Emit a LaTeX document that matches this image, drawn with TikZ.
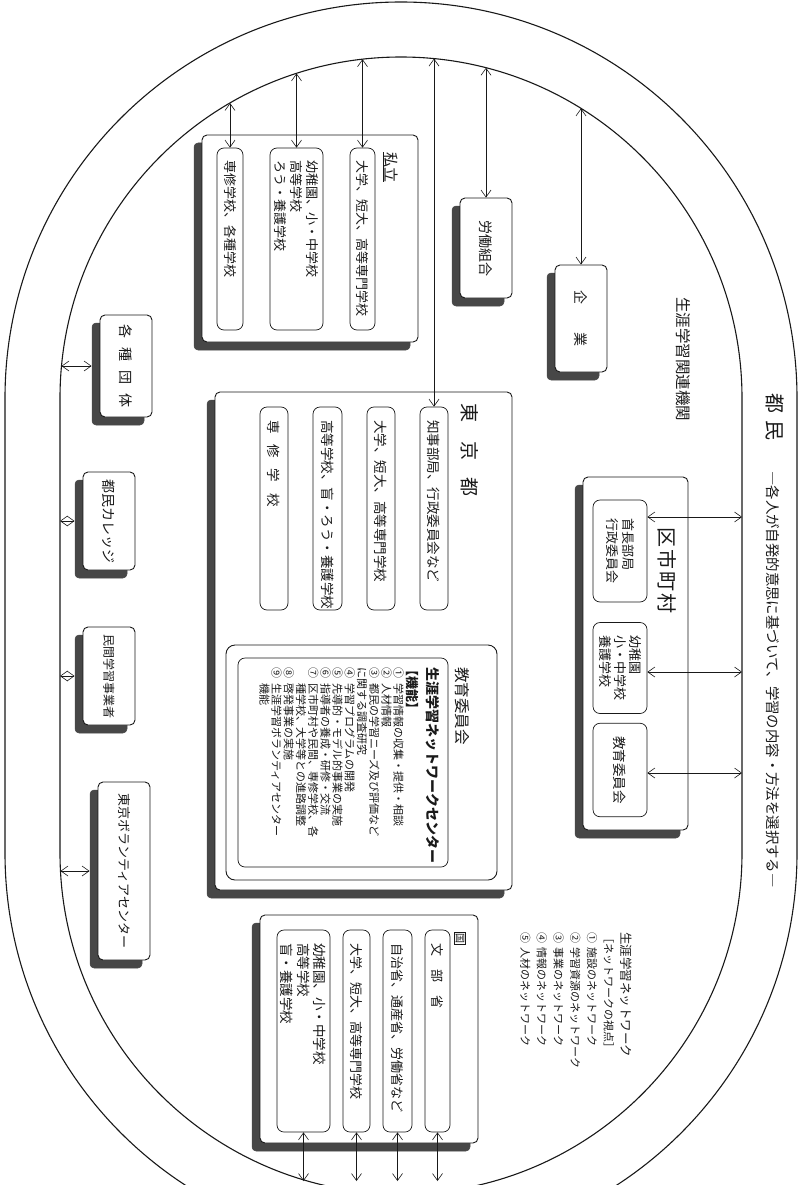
\documentclass[tikz,border=0pt]{standalone}
\usepackage{fontspec}
\setmainfont{Noto Sans CJK JP}
\usepackage{graphicx}
\usepackage{tikz}
\usetikzlibrary{arrows.meta}
\definecolor{inkblack}{RGB}{25,25,25}
\newcommand{\fsz}[2]{\fontsize{#1}{#2}\selectfont}
\tikzset{
  base/.style={font=\fsz{13}{15}, inner sep=0pt, text=inkblack},
  vtxt/.style={base, rotate=-90},
  sbox/.style={base, rectangle, rounded corners=5pt, draw=inkblack, fill=white, line width=0.9pt},
  boxshadow/.style={fill=black!72, draw=black!72, line width=0.5pt, rounded corners=4pt},
  roundbox/.style={base, rectangle, rounded corners=9pt, draw=inkblack, fill=white, line width=0.9pt},
  pill/.style={vtxt, rectangle, rounded corners=7pt, draw=inkblack, fill=white, line width=0.7pt,
    align=left, inner xsep=13pt, inner ysep=0pt},
  ring/.style={draw=inkblack, line width=1.1pt},
  darr/.style={<->, >={Straight Barb[length=7pt,width=10pt]}, line width=0.6pt, draw=inkblack},
}
\begin{document}
\begin{tikzpicture}[x=1pt,y=1pt]
  \useasboundingbox (0,0) rectangle (802,-1185);
  \draw[ring] (797,-398) arc[start angle=0,end angle=180,radius=396] -- (5,-853)
    arc[start angle=180,end angle=360,radius=396] -- cycle;
  \draw[ring] (742,-398) arc[start angle=0,end angle=180,radius=341] -- (60,-853)
    arc[start angle=180,end angle=360,radius=341] -- cycle;
  \foreach \x/\y/\w/\h in {635.5/-653.5/105/353,310/-238.5/216/207,486/-248/52/100,581/-318.5/52/107,363.5/-641/297/498,369/-1029/218/228,126/-366/52/102,109/-521/52/98,109/-676/52/98,124/-871/52/178}
    \filldraw[boxshadow] ({\x-\w/2-8},{\y-\h/2-8}) rectangle ({\x+\w/2-8},{\y+\h/2-8});
  \node[vtxt, anchor=west] (tomin) at (775,-393) {{\fsz{20}{20}都\hspace{7pt}民}\hspace{31pt}\fsz{14.4}{16}―各人が自発的意思に基づいて、学習の内容・方法を選択する―};
  \node[vtxt, anchor=west, font=\fsz{15.5}{17}] (kanren) at (683,-297) {生涯学習関連機関};

  \node[sbox, minimum width=105pt, minimum height=353pt] (kushi) at (635.5,-653.5) {};
  \node[vtxt, anchor=west, font=\fsz{20}{22}] (kushit) at (667,-527) {区\hspace{2pt}市\hspace{2pt}町\hspace{2pt}村};
  \node[pill, font=\fsz{13}{16}, minimum width=102pt, minimum height=54pt] (ks1) at (620,-551) {首長部局\\行政委員会};
  \node[pill, font=\fsz{13}{15}, minimum width=80pt, minimum height=54pt] (ks2) at (620,-668) {幼稚園\\小・中学校\\養護学校};
  \node[pill, font=\fsz{13.5}{15}, minimum width=80pt, minimum height=54pt] (ks3) at (620,-770) {教育委員会};
  \coordinate (ks1r) at (742,-517);
  \coordinate (ks2r) at (742,-672);
  \coordinate (ks3r) at (742,-773);
  \draw[darr] (ks1.north |- ks1r) -- (ks1r);
  \draw[darr] (ks2.north |- ks2r) -- (ks2r);
  \draw[darr] (ks3.north |- ks3r) -- (ks3r);

  \node[sbox, minimum width=216pt, minimum height=207pt] (shi) at (310,-238.5) {};
  \node[vtxt, anchor=west, font=\fsz{15}{17}] (shit) at (390,-152) {\underline{私立}};
  \node[pill, text width=156pt, minimum width=182pt, minimum height=25pt] (shi1) at (362.5,-239) {大学、短大、高等専門学校};
  \node[pill, font=\fsz{13}{16}, text width=156pt, minimum width=182pt, minimum height=53pt] (shi2) at (296.5,-239) {幼稚園、小・中学校\\高等学校\\ろう・養護学校};
  \node[pill, text width=156pt, minimum width=182pt, minimum height=26pt] (shi3) at (230,-239) {専修学校、各種学校};
  \coordinate (shi1t) at (362.5,-59.2);
  \coordinate (shi2t) at (296.5,-73.4);
  \coordinate (shi3t) at (230,-103);
  \foreach \n in {shi1,shi2,shi3}{\draw[darr] (\n t) -- (\n.west);}

  \node[sbox, minimum width=52pt, minimum height=100pt] (rodo) at (486,-248) {\rotatebox{-90}{\fsz{14}{16}労働組合}};
  \node[sbox, minimum width=52pt, minimum height=107pt] (kigyo) at (581,-318.5) {\rotatebox{-90}{\fsz{14}{16}企\hspace{29pt}業}};
  \coordinate (rodot) at (486,-67.8);
  \coordinate (kigyot) at (581,-108.4);
  \draw[darr] (rodot) -- (rodo.north);
  \draw[darr] (kigyot) -- (kigyo.north);

  \node[sbox, minimum width=297pt, minimum height=498pt] (tokyo) at (363.5,-641) {};
  \node[vtxt, anchor=west, font=\fsz{19}{21}] (tokyot) at (470,-403) {東\hspace{19pt}京\hspace{17pt}都};
  \foreach \n/\x/\w/\t in {to1/434/28/{知事部局、行政委員会など},to2/381/28/{大学、短大、高等専門学校},to3/327.5/29/{高等学校、盲・ろう・養護学校},to4/274/28/{専\hspace{11pt}修\hspace{11pt}学\hspace{11pt}校}}
    \node[pill, font=\fsz{13.5}{15}, text width=177pt, minimum width=203pt, minimum height=\w] (\n) at (\x,-508.5) {\t};
  \coordinate (to1t) at (434,-58.6);
  \draw[darr] (to1t) -- (to1.west);

  \node[roundbox, minimum width=271pt, minimum height=235pt] (kyoiku) at (361.5,-762.5) {};
  \node[vtxt, anchor=west, font=\fsz{15.5}{17}] (kyoikut) at (462,-667) {教育委員会};
  \node[roundbox, rounded corners=7pt, line width=0.7pt, minimum width=210pt, minimum height=209pt] (nwc) at (343,-762.5) {};
  \node[vtxt, anchor=west, font=\fsz{14}{16}\bfseries] (nwct) at (433,-667) {生涯学習ネットワークセンター};
  \node[vtxt, anchor=west, font=\fsz{13}{15}\bfseries] (kinou) at (412,-663) {【機能】};
  \node[vtxt, anchor=north west, align=left, font=\fsz{11}{12.2}] (kinoul) at (404,-667) {①\hspace{5pt}学習情報の収集・提供・相談\\
②\hspace{5pt}人材情報\\
③\hspace{5pt}都民の学習ニーズ及び評価など\\
に関する調査研究\\
④\hspace{5pt}学習プログラムの開発\\
⑤\hspace{5pt}先導的・モデル的事業の実施\\
⑥\hspace{5pt}指導者の養成・研修・交流\\
⑦\hspace{5pt}区市町村や民間、専修学校、各\\
\hspace*{16pt}種学校、大学等との進路調整\\
⑧\hspace{5pt}啓発事業の実施\\
⑨\hspace{5pt}生涯学習ボランティアセンター\\
\hspace*{16pt}機能};

  \node[sbox, minimum width=218pt, minimum height=228pt] (kuni) at (369,-1029) {};
  \node[vtxt, draw=inkblack, line width=0.6pt, inner sep=1pt, font=\fsz{10}{11}] (kunit) at (460,-938) {国};
  \foreach \n/\x/\w/\t in {kn1/437.5/25/{文\hspace{13pt}部\hspace{13pt}省},kn2/397.5/29/{自治省、通産省、労働省など},kn3/356.5/27/{大学、短大、高等専門学校}}
    \node[pill, text width=176pt, minimum width=202pt, minimum height=\w] (\n) at (\x,-1031) {\t};
  \node[pill, font=\fsz{13.5}{16.5}, text width=176pt, minimum width=202pt, minimum height=53pt] (kn4) at (303.5,-1031) {幼稚園、小・中学校\\高等学校\\盲・養護学校};
  \foreach \n in {kn1,kn2,kn3,kn4}{
    \coordinate (\n bot) at (\n.east |- 0,-1181);
    \draw[darr] (\n.east) -- (\n bot);
  }

  \foreach \n/\x/\y/\h/\t in {kaku/126/-366/102/{\fsz{14}{16}各\hspace{9pt}種\hspace{9pt}団\hspace{9pt}体},college/109/-521/98/{\fsz{14}{16}都民カレッジ},minkan/109/-676/98/{\fsz{12}{14}民間学習事業者},volun/124/-871/178/{\fsz{13}{15}東京ボランティアセンター}}
    \node[sbox, minimum width=52pt, minimum height=\h] (\n) at (\x,\y) {\rotatebox{-90}{\t}};
  \coordinate (kakul) at (61.5,-366);
  \coordinate (collegel) at (60,-521);
  \coordinate (minkanl) at (60,-676);
  \coordinate (volunl) at (60.5,-871);
  \foreach \n in {kaku,college,minkan,volun}{\draw[darr] (\n l) -- ([xshift=-8pt]\n.west);}

  \node[vtxt, anchor=north west, align=left, font=\fsz{11}{16.7}] (legend) at (632,-932) {{\fsz{12.5}{16.7}生涯学習ネットワーク}\\
［ネットワークの視点］\\
①\hspace{4pt}施設のネットワーク\\
②\hspace{4pt}学習資源のネットワーク\\
③\hspace{4pt}事業のネットワーク\\
④\hspace{4pt}情報のネットワーク\\
⑤\hspace{4pt}人材のネットワーク};
\end{tikzpicture}
\end{document}
